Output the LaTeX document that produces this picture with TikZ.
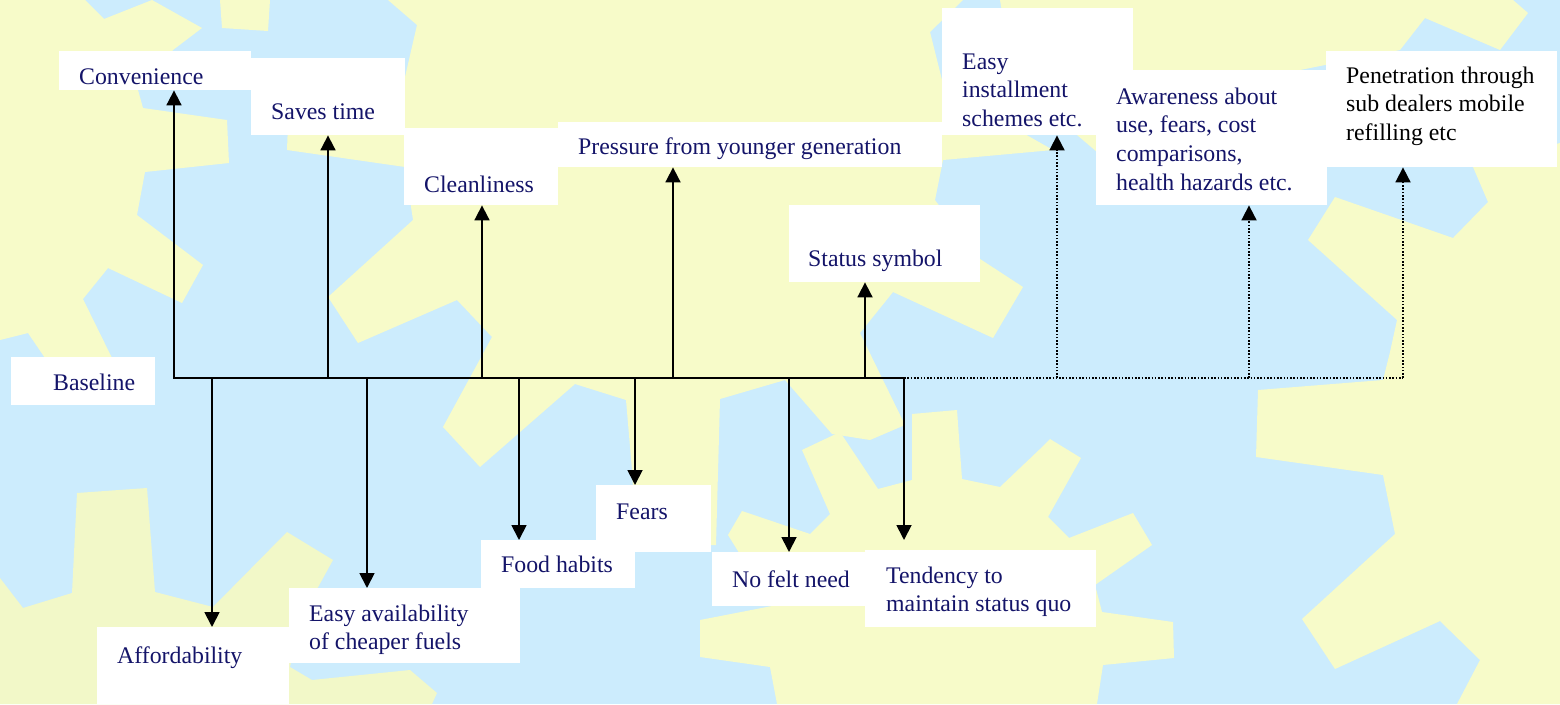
\documentclass[tikz,border=0pt]{standalone}
\usepackage{fontspec}
\setmainfont{Liberation Serif}
\usetikzlibrary{arrows.meta}
\definecolor{bgY}{RGB}{247,251,201}
\definecolor{bgB}{RGB}{204,236,253}
\definecolor{bgT}{RGB}{242,248,200}
\definecolor{navy}{RGB}{20,20,105}
\begin{document}
\begin{tikzpicture}[x=1pt,y=-1pt,
  box/.style={fill=white, draw=none, inner sep=0pt, anchor=north west},
  txt/.style={inner sep=0pt, anchor=north west, align=left, text=navy, font=\fontsize{23.8pt}{28.8pt}\selectfont},
  link/.style={line width=1.8pt},
  dotlink/.style={line width=1.8pt, dash pattern=on 1.6pt off 1.7pt},
  arr/.style={link, -{Triangle[length=15pt,width=15pt]}},
  darr/.style={dotlink, -{Triangle[length=15pt,width=15pt]}},
]
\useasboundingbox (0,0) rectangle (1560,704);
% background
\fill[bgB] (0,0) rectangle (1560,704);
\fill[bgY] (0,0) -- (85,0) -- (104,19) -- (152,0) -- (202,28) -- (173,50) -- (138,90) -- (143,108) -- (227,120) -- (229,163) -- (145,172) -- (137,215) -- (203,265) -- (182,303) -- (108,268) -- (83,299) -- (112,358) -- (45,358) -- (28,333) -- (0,340) -- cycle;
\fill[bgY] (220,0) -- (222,28) -- (268,31) -- (270,0) -- cycle;
\fill[bgY] (388,0) -- (963,0) -- (930,32) -- (942,80) -- (1000,120) -- (1053,150) -- (943,160) -- (935,200) -- (977,257) -- (1023,287) -- (993,338) -- (893,292) -- (860,333) -- (905,425) -- (870,440) -- (832,434) -- (785,380) -- (720,399) -- (716,545) -- (636,545) -- (632,470) -- (626,400) -- (575,384) -- (480,467) -- (443,427) -- (473,372) -- (492,337) -- (457,300) -- (358,343) -- (328,297) -- (413,220) -- (405,167) -- (287,150) -- (290,70) -- (405,77) -- (417,25) -- cycle;
\fill[bgY] (1000,0) -- (1513,0) -- (1528,13) -- (1500,50) -- (1425,18) -- (1400,50) -- (1300,70) -- (1150,110) -- (1097,152) -- (1077,135) -- (1010,60) -- cycle;
\fill[bgY] (772,606) -- (728,535) -- (742,511) -- (810,534) -- (830,514) -- (802,450) -- (840,432) -- (878,489) -- (912,480) -- (912,414) -- (957,410) -- (962,479) -- (1000,487) -- (1040,449) -- (1050,439) -- (1081,458) -- (1048,517) -- (1069,538) -- (1133,513) -- (1152,545) -- (1095,585) -- (1102,612) -- (1173,622) -- (1174,658) -- (1103,665) -- (1097,704) -- (777,704) -- (770,667) -- (700,657) -- (700,620) -- cycle;
\fill[bgY] (1560,143) -- (1473,167) -- (1488,202) -- (1453,238) -- (1335,197) -- (1308,240) -- (1397,320) -- (1390,352) -- (1383,380) -- (1258,390) -- (1256,457) -- (1383,475) -- (1395,534) -- (1302,619) -- (1335,669) -- (1440,621) -- (1480,660) -- (1457,704) -- (1560,704) -- cycle;
\fill[bgT] (0,578) -- (23,608) -- (72,593) -- (77,493) -- (147,488) -- (155,592) -- (213,607) -- (287,532) -- (333,560) -- (300,620) -- (290,667) -- (312,680) -- (410,670) -- (437,693) -- (432,704) -- (0,704) -- cycle;
% boxes
\node[box, minimum width=192pt, minimum height=39pt] (conv) at (59,51) {};
\node[box, minimum width=154pt, minimum height=77pt] (saves) at (251,58) {};
\node[box, minimum width=154pt, minimum height=77pt] (clean) at (404,128) {};
\node[box, minimum width=384pt, minimum height=45pt] (press) at (558,122) {};
\node[box, minimum width=191pt, minimum height=127pt] (easyi) at (942,8) {};
\node[box, minimum width=231pt, minimum height=135pt] (aware) at (1096,70) {};
\node[box, minimum width=231pt, minimum height=116pt] (penet) at (1326,51) {};
\node[box, minimum width=191pt, minimum height=77pt] (status) at (789,205) {};
\node[box, minimum width=144pt, minimum height=48pt] (base) at (11,357) {};
\node[box, minimum width=192pt, minimum height=77pt] (afford) at (97,627) {};
\node[box, minimum width=231pt, minimum height=75pt] (avail) at (289,588) {};
\node[box, minimum width=154pt, minimum height=48pt] (food) at (481,540) {};
\node[box, minimum width=115pt, minimum height=67pt] (fears) at (596,485) {};
\node[box, minimum width=153pt, minimum height=54pt] (nofelt) at (712,552) {};
\node[box, minimum width=231pt, minimum height=77pt] (tend) at (865,550) {};
% texts
\node[txt] (convT) at (79,63.8) {\strut Convenience};
\node[txt] (savesT) at (271,98.8) {\strut Saves time};
\node[txt] (cleanT) at (424,171.8) {\strut Cleanliness};
\node[txt] (pressT) at (578,133.8) {\strut Pressure from younger generation};
\node[txt] (easyiT) at (962,48.8) {\strut Easy\\\strut installment\\\strut schemes etc.};
\node[txt] (awareT) at (1116,83.8) {\strut Awareness about\\\strut use, fears, cost\\\strut comparisons,\\\strut health hazards etc.};
\node[txt, text=black] (penetT) at (1346,62.8) {\strut Penetration through\\\strut sub dealers mobile\\\strut refilling etc};
\node[txt] (statusT) at (808,245.8) {\strut Status symbol};
\node[txt] (baseT) at (53,369.8) {\strut Baseline};
\node[txt] (affordT) at (117,642.8) {\strut Affordability};
\node[txt] (availT) at (309,600.8) {\strut Easy availability\\\strut of cheaper fuels};
\node[txt] (foodT) at (501,551.8) {\strut Food habits};
\node[txt] (fearsT) at (616,498.8) {\strut Fears};
\node[txt] (nofeltT) at (732,566.8) {\strut No felt need};
\node[txt] (tendT) at (886,562.8) {\strut Tendency to\\\strut maintain status quo};
% junctions on the baseline
\coordinate (u1) at (174,378);
\coordinate (u2) at (328,378);
\coordinate (u3) at (482,378);
\coordinate (u4) at (673,378);
\coordinate (u5) at (865,378);
\coordinate (u6) at (1057,378);
\coordinate (u7) at (1249,378);
\coordinate (u8) at (1403,378);
\coordinate (d1) at (212,378);
\coordinate (d2) at (367,378);
\coordinate (d3) at (519,378);
\coordinate (d4) at (635,378);
\coordinate (d5) at (789,378);
\coordinate (d6) at (904,378);
% connectors
\draw[link, line cap=rect] (u1) -- (d6);
\draw[dotlink] (d6) -- (u8);
\draw[arr] (u1) -- (u1 |- conv.south);
\draw[arr] (u2) -- (u2 |- saves.south);
\draw[arr] (u3) -- (u3 |- clean.south);
\draw[arr] (u4) -- (u4 |- press.south);
\draw[arr] (u5) -- (u5 |- status.south);
\draw[darr] (u6) -- (u6 |- easyi.south);
\draw[darr] (u7) -- (u7 |- aware.south);
\draw[darr] (u8) -- (u8 |- penet.south);
\draw[arr] (d1) -- (d1 |- afford.north);
\draw[arr] (d2) -- (d2 |- avail.north);
\draw[arr] (d3) -- (d3 |- food.north);
\draw[arr] (d4) -- (d4 |- fears.north);
\draw[arr] (d5) -- (d5 |- nofelt.north);
\draw[arr, shorten >=10pt] (d6) -- (d6 |- tend.north);
\end{tikzpicture}
\end{document}
